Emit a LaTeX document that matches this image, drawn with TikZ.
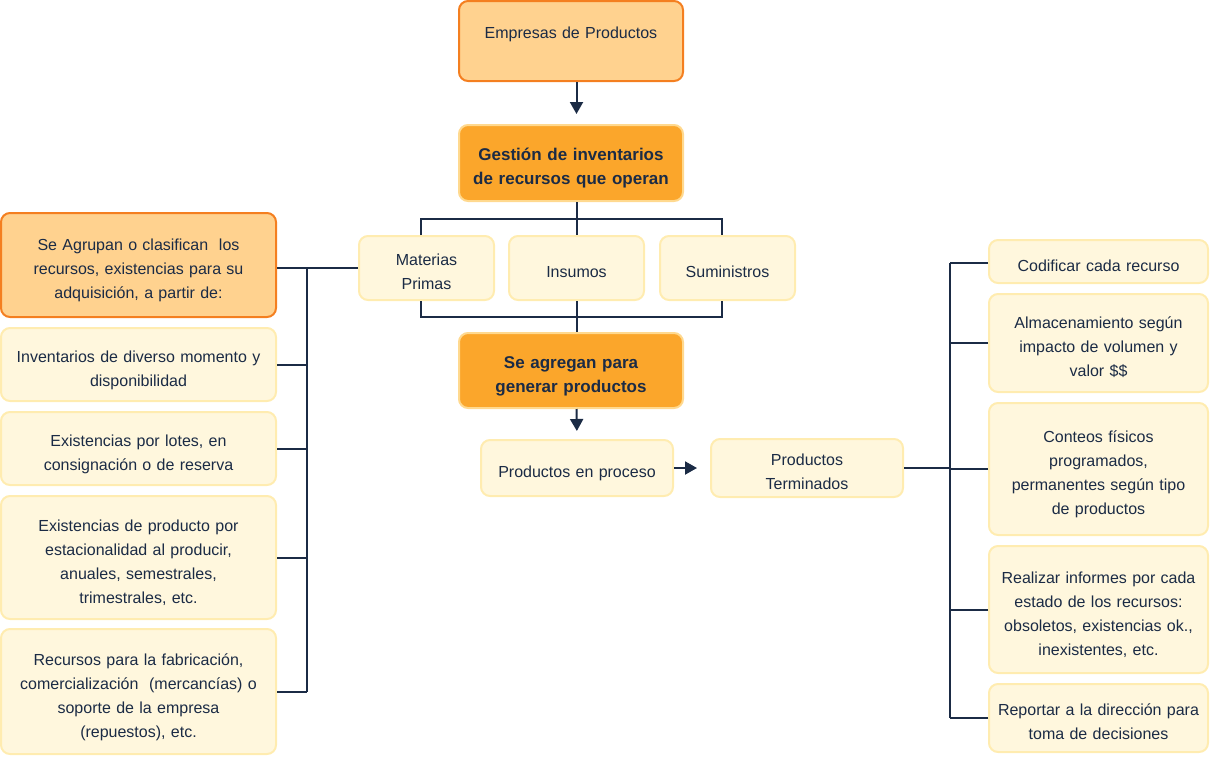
\documentclass[tikz,border=0pt]{standalone}
\usepackage{fontspec}
\setmainfont{Liberation Sans}
\usetikzlibrary{arrows.meta}

\definecolor{navy}{HTML}{1B2B45}
\definecolor{peach}{HTML}{FFD28F}
\definecolor{peachline}{HTML}{F47F20}
\definecolor{amber}{HTML}{FBA62B}
\definecolor{amberline}{HTML}{FFD98F}
\definecolor{cream}{HTML}{FFF7DD}
\definecolor{creamline}{HTML}{FFECB0}

\begin{document}
\begin{tikzpicture}[
          x=1pt, y=-1pt,
          box/.style={rounded corners=9pt, line width=2pt, align=center, inner sep=0pt,
                      text=navy, font=\fontsize{16}{24}\selectfont,
                      execute at begin node={\rule{0pt}{26.8pt}},
                      execute at end node={\rule[-7.2pt]{0pt}{7.2pt}}},
          wd/.style={text width=#1pt},
          head/.style={box, fill=peach, draw=peachline},
          key/.style={box, fill=amber, draw=amberline, font=\fontsize{17}{24}\selectfont\bfseries},
          item/.style={box, fill=cream, draw=creamline},
          link/.style={navy, line width=2pt},
          flow/.style={link, -{Triangle[width=13pt,length=12pt]}},
        ]
        \useasboundingbox (0,0) rectangle (1210,756);

        % centre column
        \node[head, wd=224, minimum height=80] (emp) at (571,41)
             {\raisebox{12pt}[0pt][0pt]{Empresas de Productos}};
        \node[key, wd=224, minimum height=76] (gest) at (571,163)
             {Gestión de inventarios\\de recursos que operan};
        \node[item, wd=135, minimum height=64] (mat) at (426.5,268) {Materias\\Primas};
        \node[item, wd=135, minimum height=64] (ins) at (576.5,268) {Insumos};
        \node[item, wd=135, minimum height=64] (sum) at (727.5,268) {Suministros};
        \node[key, wd=224, minimum height=75] (agr) at (571,370.5)
             {Se agregan para\\generar productos};
        \node[item, wd=192, minimum height=56] (proc) at (577,468) {Productos en proceso};
        \node[item, wd=192, minimum height=56] (term) at (807,468) {Productos\\Terminados};

        % left column
        \node[head, wd=275, minimum height=104] (agrup) at (138.5,265)
             {Se Agrupan o clasifican\ \ los\\recursos, existencias para su\\adquisición, a partir de:};
        \node[item, wd=275, minimum height=73] (inv) at (138.5,364.5)
             {Inventarios de diverso momento y\\disponibilidad};
        \node[item, wd=275, minimum height=73] (lot) at (138.5,448.5)
             {Existencias por lotes, en\\consignación o de reserva};
        \node[item, wd=275, minimum height=123] (est) at (138.5,557.5)
             {Existencias de producto por\\estacionalidad al producir,\\anuales, semestrales,\\trimestrales, etc.};
        \node[item, wd=275, minimum height=125] (rec) at (138.5,691.5)
             {Recursos para la fabricación,\\comercialización\ \ (mercancías) o\\soporte de la empresa\\(repuestos), etc.};

        % right column
        \node[item, wd=219, minimum height=43] (cod) at (1098.5,261.5) {Codificar cada recurso};
        \node[item, wd=219, minimum height=98] (alm) at (1098.5,343)
             {Almacenamiento según\\impacto de volumen y\\valor \$\$};
        \node[item, wd=219, minimum height=132] (con) at (1098.5,469)
             {Conteos físicos\\programados,\\permanentes según tipo\\de productos};
        \node[item, wd=219, minimum height=127] (rea) at (1098.5,609.5)
             {Realizar informes por cada\\estado de los recursos:\\obsoletos, existencias ok.,\\inexistentes, etc.};
        \node[item, wd=219, minimum height=68] (rep) at (1098.5,718)
             {Reportar a la dirección para\\toma de decisiones};

        \coordinate (lbus) at (307,268);
        \coordinate (rbus) at (950,468);

        % connectors
        \draw[flow, shorten >=10pt] (emp.south -| ins) -- (gest.north -| ins);
        \draw[link] (gest.south -| ins) -- (ins.north);
        \draw[link] ([xshift=-6]mat.north) -- ++(0,-16) -| ([xshift=-6]sum.north);
        \draw[link] ([xshift=-6]mat.south) -- ++(0,16) -| ([xshift=-6]sum.south);
        \draw[link] (ins.south) -- (agr.north -| ins);
        \draw[flow, shorten >=8pt] (agr.south -| ins) -- (proc.north);
        \draw[flow, shorten >=13pt] (proc.east) -- (term.west);

        \draw[link] (agrup.east |- mat.west) -- (mat.west);
        \draw[link] (lbus) -- (lbus |- rec.east);
        \foreach \n in {inv, lot, est, rec}
          \draw[link] (\n.east) -- (\n.east -| lbus);

        \draw[link] (term.east) -- (rbus);
        \draw[link] (rbus |- 0,263) -- (rbus |- rep.west);
        \draw[link] (cod.west |- 0,263) -- (rbus |- 0,263);
        \foreach \n in {alm, con, rea, rep}
          \draw[link] (\n.west) -- (\n.west -| rbus);
      \end{tikzpicture}
\end{document}
